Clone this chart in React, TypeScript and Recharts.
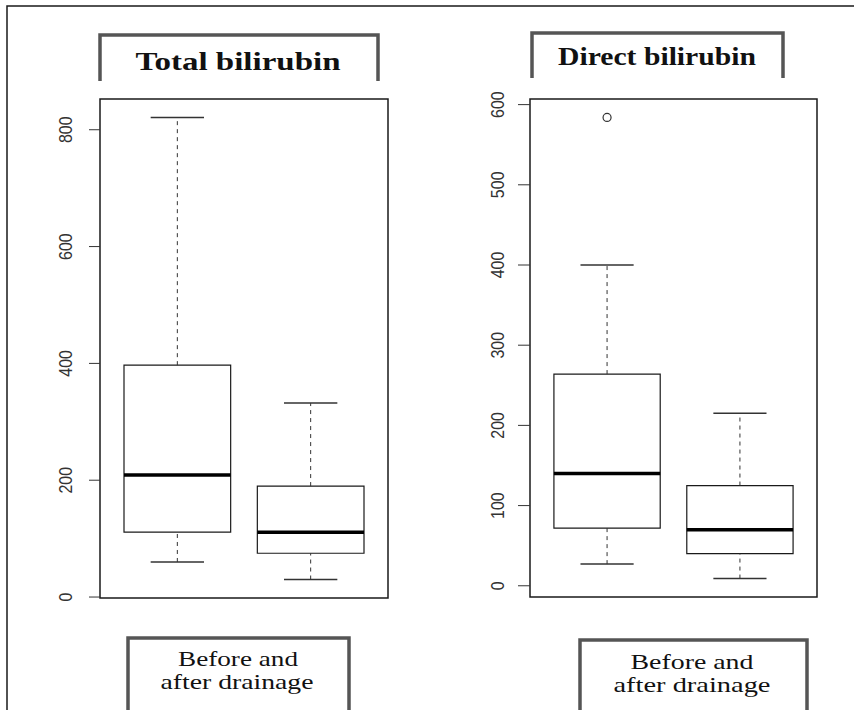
import React from "react";
import { ComposedChart, XAxis, YAxis, ReferenceArea, ReferenceLine, ReferenceDot } from "recharts";

const groups = ["Before drainage", "After drainage"];
const groupPos = [1, 2];

// Total bilirubin: five-number summaries per group
const totalLow = [60, 30];
const totalQ1 = [111, 75];
const totalMedian = [209, 111];
const totalQ3 = [397, 190];
const totalHigh = [821, 332];
const totalOutliers: number[][] = [[], []];
const totalTicks = [0, 200, 400, 600, 800];

// Direct bilirubin
const directLow = [27, 9];
const directQ1 = [72, 40];
const directMedian = [140, 70];
const directQ3 = [264, 125];
const directHigh = [400, 215];
const directOutliers: number[][] = [[584], []];
const directTicks = [0, 100, 200, 300, 400, 500, 600];

const INK = "#1a1a1a";
const BRACKET = "#555";

// y labels run along the axis, glyphs a little taller than wide
const RotatedTick = ({ x, y, payload, shift }: any) => (
  <text
    x={0}
    y={0}
    transform={`translate(${x - shift} ${y}) rotate(-90) scale(1 1.2)`}
    textAnchor="middle"
    dominantBaseline="central"
    fontFamily="'Liberation Sans', Arial, sans-serif"
    fontSize={16}
    fill="#333"
  >
    {payload.value}
  </text>
);

type PanelProps = {
  low: number[];
  q1: number[];
  median: number[];
  q3: number[];
  high: number[];
  outliers: number[][];
  ticks: number[];
  left: number;
  axisWidth: number;
  labelShift: number;
  tickLen: number;
  margin: { top: number; right: number; bottom: number };
};

const BoxPanel = (p: PanelProps) => {
  const all = [...p.low, ...p.high, ...p.outliers.flat()];
  const min = Math.min(...all);
  const max = Math.max(...all);
  // R-style 4% padding on both axes
  const pad = (max - min) * 0.04;
  const yDomain = [min - pad, max + pad];
  const xDomain = [0.5 - 0.04 * groups.length, groups.length + 0.5 + 0.04 * groups.length];
  const rows = groups.map((name, i) => ({ name, pos: groupPos[i], value: p.median[i] }));

  return (
    <div style={{ position: "absolute", left: p.left, top: 0 }}>
      <ComposedChart
        width={427}
        height={710}
        data={rows}
        margin={{ top: p.margin.top, right: p.margin.right, bottom: p.margin.bottom, left: 0 }}
      >
        <XAxis
          dataKey="pos"
          type="number"
          domain={xDomain}
          ticks={groupPos}
          allowDataOverflow
          tick={false}
          tickSize={10}
          axisLine={false}
          stroke="#333"
          height={30}
        />
        <YAxis
          dataKey="value"
          type="number"
          domain={yDomain}
          ticks={p.ticks}
          allowDataOverflow
          width={p.axisWidth}
          axisLine={false}
          tickSize={p.tickLen}
          stroke="#333"
          tick={<RotatedTick shift={p.labelShift} />}
        />
        {/* plot frame */}
        <ReferenceArea
          x1={xDomain[0]}
          x2={xDomain[1]}
          y1={yDomain[0]}
          y2={yDomain[1]}
          fill="none"
          stroke={INK}
          strokeWidth={1.5}
        />
        {groups.map((name, i) => {
          const c = groupPos[i];
          return (
            <React.Fragment key={name}>
              <ReferenceLine
                segment={[{ x: c, y: p.q3[i] }, { x: c, y: p.high[i] }]}
                stroke="#333"
                strokeDasharray="4 4"
              />
              <ReferenceLine
                segment={[{ x: c, y: p.low[i] }, { x: c, y: p.q1[i] }]}
                stroke="#333"
                strokeDasharray="4 4"
              />
              <ReferenceLine
                segment={[{ x: c - 0.2, y: p.high[i] }, { x: c + 0.2, y: p.high[i] }]}
                stroke="#333"
                strokeWidth={1.5}
              />
              <ReferenceLine
                segment={[{ x: c - 0.2, y: p.low[i] }, { x: c + 0.2, y: p.low[i] }]}
                stroke="#333"
                strokeWidth={1.5}
              />
              <ReferenceArea
                x1={c - 0.4}
                x2={c + 0.4}
                y1={p.q1[i]}
                y2={p.q3[i]}
                fill="#fff"
                fillOpacity={1}
                stroke={INK}
                strokeWidth={1.2}
              />
              <ReferenceLine
                segment={[{ x: c - 0.4, y: p.median[i] }, { x: c + 0.4, y: p.median[i] }]}
                stroke="#000"
                strokeWidth={3.5}
              />
              {p.outliers[i].map((v) => (
                <ReferenceDot key={v} x={c} y={v} r={4} fill="#fff" stroke="#333" strokeWidth={1.2} />
              ))}
            </React.Fragment>
          );
        })}
      </ComposedChart>
    </div>
  );
};

const serif = "'Liberation Serif', 'Times New Roman', serif";

export default function App() {
  return (
    <div style={{ position: "absolute", left: 0, top: 0, width: 854, height: 710, background: "#fff", overflow: "hidden" }}>
      <BoxPanel
        low={totalLow}
        q1={totalQ1}
        median={totalMedian}
        q3={totalQ3}
        high={totalHigh}
        outliers={totalOutliers}
        ticks={totalTicks}
        left={0}
        axisWidth={100}
        labelShift={22}
        tickLen={11}
        margin={{ top: 99, right: 39, bottom: 82 }}
      />
      <BoxPanel
        low={directLow}
        q1={directQ1}
        median={directMedian}
        q3={directQ3}
        high={directHigh}
        outliers={directOutliers}
        ticks={directTicks}
        left={427}
        axisWidth={103}
        labelShift={19}
        tickLen={12}
        margin={{ top: 99, right: 37, bottom: 83 }}
      />
      <svg width={854} height={710} style={{ position: "absolute", left: 0, top: 0, pointerEvents: "none" }}>
        {/* outer border */}
        <path d="M7,710 V6 H854" fill="none" stroke={INK} strokeWidth={1.5} />

        {/* title brackets */}
        <path d="M100,81 V35 H378 V81" fill="none" stroke={BRACKET} strokeWidth={3.5} />
        <text x={238} y={70} textAnchor="middle" fontFamily={serif} fontWeight="bold" fontSize={26}
          textLength={205} lengthAdjust="spacingAndGlyphs" fill="#111">
          Total bilirubin
        </text>
        <path d="M532,78 V33 H783 V78" fill="none" stroke={BRACKET} strokeWidth={3.5} />
        <text x={657} y={65} textAnchor="middle" fontFamily={serif} fontWeight="bold" fontSize={26}
          textLength={198} lengthAdjust="spacingAndGlyphs" fill="#111">
          Direct bilirubin
        </text>

        {/* group label boxes */}
        <path d="M128,712 V638 H349 V712" fill="none" stroke={BRACKET} strokeWidth={3.5} />
        <text x={238} y={666} textAnchor="middle" fontFamily={serif} fontSize={21}
          textLength={120} lengthAdjust="spacingAndGlyphs" fill="#111">
          Before and
        </text>
        <text x={237} y={689} textAnchor="middle" fontFamily={serif} fontSize={21}
          textLength={153} lengthAdjust="spacingAndGlyphs" fill="#111">
          after drainage
        </text>
        <path d="M580,712 V640 H807 V712" fill="none" stroke={BRACKET} strokeWidth={3.5} />
        <text x={692} y={669} textAnchor="middle" fontFamily={serif} fontSize={21}
          textLength={123} lengthAdjust="spacingAndGlyphs" fill="#111">
          Before and
        </text>
        <text x={692} y={692} textAnchor="middle" fontFamily={serif} fontSize={21}
          textLength={157} lengthAdjust="spacingAndGlyphs" fill="#111">
          after drainage
        </text>
      </svg>
    </div>
  );
}
